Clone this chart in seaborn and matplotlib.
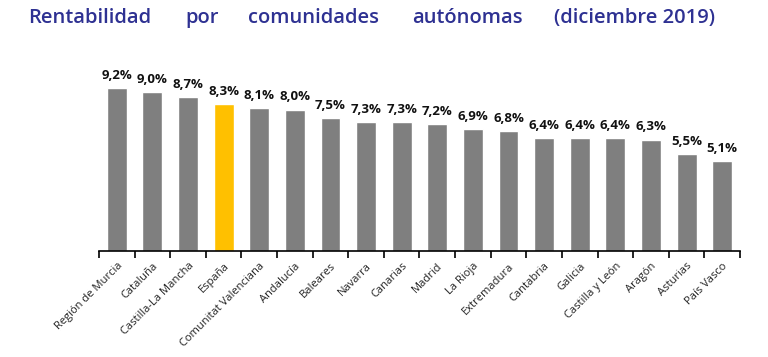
import numpy as np
import pandas as pd
import matplotlib
matplotlib.use("Agg")
import matplotlib.pyplot as plt
import seaborn as sns

# Chart data
regions = ["Región de Murcia", "Cataluña", "Castilla-La Mancha", "España",
           "Comunitat Valenciana", "Andalucía", "Baleares", "Navarra", "Canarias",
           "Madrid", "La Rioja", "Extremadura", "Cantabria", "Galicia",
           "Castilla y León", "Aragón", "Asturias", "País Vasco"]
rentabilidad = [9.2, 9.0, 8.7, 8.3, 8.1, 8.0, 7.5, 7.3, 7.3,
                7.2, 6.9, 6.8, 6.4, 6.4, 6.4, 6.3, 5.5, 5.1]
title_words = ["Rentabilidad", "por", "comunidades", "autónomas", "(diciembre 2019)"]

df = pd.DataFrame({"region": regions, "valor": rentabilidad})
colors = ["#FFC000" if r == "España" else "#7F7F7F" for r in regions]

sns.set_style("white")
plt.rcParams["font.family"] = ["Open Sans", "DejaVu Sans"]

fig = plt.figure(figsize=(7.68, 3.57), dpi=100)
ax = fig.add_axes([99 / 768, 1 - 251 / 357, 641 / 768, 0.52])

sns.barplot(data=df, x="region", y="valor", hue="region", palette=colors,
            width=0.56, legend=False, ax=ax, saturation=1)

for i, v in enumerate(rentabilidad):
    ax.text(i, v + 0.35, f"{v:.1f}%".replace(".", ","), ha="center", va="bottom",
            fontsize=9.5, fontweight="bold", color="#111111")

ax.set_ylim(0, 10.5)
ax.set_xlim(-0.5, len(regions) - 0.5)
ax.set_yticks([])
ax.set_xlabel("")
ax.set_ylabel("")
for s in ["top", "right", "left"]:
    ax.spines[s].set_visible(False)
ax.spines["bottom"].set_color("black")
ax.spines["bottom"].set_linewidth(1.2)

ax.set_xticks(np.arange(len(regions)))
ax.set_xticklabels(regions, rotation=45, ha="right", rotation_mode="anchor",
                   fontsize=8, color="#222222")
ax.tick_params(axis="x", which="major", bottom=True, length=0, pad=7)
ax.set_xticks(np.arange(-0.5, len(regions)), minor=True)
ax.tick_params(axis="x", which="minor", bottom=True, length=5, width=1.2,
               color="black", direction="out")

# Title spread across the width like the original
title_x = [28, 185, 248, 412, 554]
for w, x in zip(title_words, title_x):
    fig.text(x / 768, 1 - 18 / 357, w, ha="left", va="center", fontsize=14.5,
             fontweight="semibold", color="#2E3192")

fig.savefig("out.png", dpi=100)
